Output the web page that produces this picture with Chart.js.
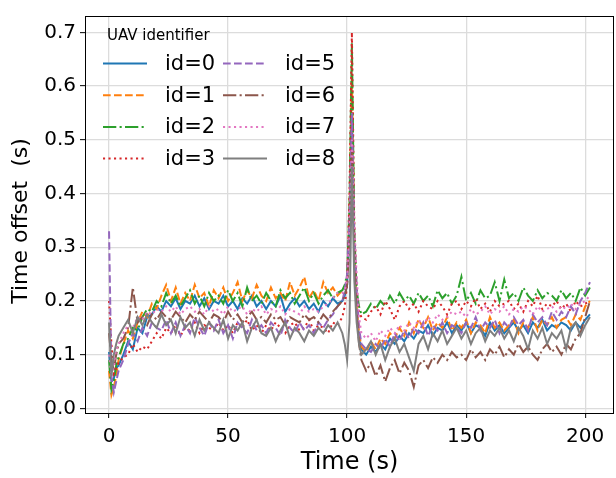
<!DOCTYPE html>
<html>
<head>
<meta charset="utf-8">
<script src="https://cdn.jsdelivr.net/npm/chart.js@4.4.1/dist/chart.umd.min.js"></script>
<style>
  html, body { margin: 0; padding: 0; background: #fff; }
  #wrap { width: 616px; height: 478px; }
</style>
</head>
<body>
<div id="wrap"><canvas id="offset-chart" width="616" height="478"></canvas></div>
<script>
// sample times (s)
const times = [
  0, 1, 2, 3, 4,
  6, 8, 10, 12, 14, 16, 18, 20, 22, 24,
  26, 28, 30, 32, 34, 36, 38, 40, 42, 44,
  46, 48, 50, 52, 54, 56, 58, 60, 62, 64,
  66, 68, 70, 72, 74, 76, 78, 80, 82, 84,
  86, 88, 90, 92, 94, 96,
  98, 99, 100, 101, 102, 103, 104, 105, 106,
  108, 110, 112, 114, 116, 118, 120, 122, 124, 126,
  128, 130, 132, 134, 136, 138, 140, 142, 144, 146,
  148, 150, 152, 154, 156, 158, 160, 162, 164, 166,
  168, 170, 172, 174, 176, 178, 180, 182, 184, 186,
  188, 190, 192, 194, 196, 198, 200, 202
];

const id0 = [
  0.105, 0.05, 0.055, 0.075, 0.08,
  0.10, 0.125, 0.11, 0.15, 0.14, 0.17, 0.175, 0.19, 0.18, 0.20,
  0.19, 0.205, 0.185, 0.20, 0.195, 0.21, 0.19, 0.205, 0.185, 0.20,
  0.195, 0.21, 0.19, 0.20, 0.185, 0.205, 0.195, 0.21, 0.19, 0.20,
  0.185, 0.20, 0.19, 0.21, 0.18, 0.195, 0.205, 0.19, 0.20, 0.185,
  0.195, 0.18, 0.20, 0.19, 0.205, 0.195,
  0.20, 0.21, 0.23, 0.33, 0.55, 0.30, 0.18, 0.13, 0.11,
  0.10, 0.115, 0.105, 0.12, 0.11, 0.13, 0.12, 0.135, 0.125, 0.14,
  0.13, 0.145, 0.14, 0.155, 0.135, 0.15, 0.145, 0.16, 0.14, 0.155,
  0.145, 0.16, 0.14, 0.155, 0.15, 0.135, 0.16, 0.145, 0.155, 0.14,
  0.15, 0.16, 0.145, 0.155, 0.14, 0.16, 0.15, 0.165, 0.145, 0.155,
  0.15, 0.16, 0.155, 0.145, 0.16, 0.15, 0.165, 0.175
];
const id1 = [
  0.07, 0.025, 0.04, 0.06, 0.09,
  0.12, 0.145, 0.13, 0.16, 0.18, 0.17, 0.195, 0.185, 0.21, 0.23,
  0.20, 0.225, 0.195, 0.215, 0.20, 0.23, 0.205, 0.215, 0.19, 0.22,
  0.205, 0.225, 0.20, 0.215, 0.235, 0.20, 0.22, 0.205, 0.23, 0.21,
  0.20, 0.225, 0.205, 0.215, 0.20, 0.235, 0.21, 0.225, 0.245, 0.205,
  0.22, 0.20, 0.235, 0.215, 0.225, 0.21,
  0.22, 0.225, 0.24, 0.36, 0.62, 0.31, 0.19, 0.14, 0.115,
  0.105, 0.125, 0.11, 0.13, 0.12, 0.14, 0.13, 0.15, 0.135, 0.16,
  0.14, 0.165, 0.15, 0.17, 0.145, 0.16, 0.15, 0.17, 0.145, 0.16,
  0.15, 0.165, 0.14, 0.16, 0.155, 0.14, 0.17, 0.15, 0.16, 0.145,
  0.155, 0.165, 0.14, 0.16, 0.15, 0.17, 0.145, 0.165, 0.155, 0.17,
  0.15, 0.165, 0.17, 0.155, 0.175, 0.165, 0.19, 0.20
];
const id2 = [
  0.09, 0.035, 0.05, 0.08, 0.095,
  0.12, 0.13, 0.15, 0.145, 0.17, 0.185, 0.18, 0.20, 0.19, 0.215,
  0.195, 0.21, 0.19, 0.205, 0.22, 0.195, 0.21, 0.19, 0.215, 0.20,
  0.21, 0.195, 0.22, 0.20, 0.215, 0.19, 0.225, 0.20, 0.21, 0.195,
  0.215, 0.20, 0.19, 0.22, 0.205, 0.215, 0.195, 0.21, 0.225, 0.20,
  0.215, 0.195, 0.21, 0.22, 0.205, 0.215,
  0.22, 0.23, 0.25, 0.38, 0.68, 0.33, 0.22, 0.19, 0.175,
  0.18, 0.195, 0.185, 0.20, 0.19, 0.21, 0.195, 0.215, 0.20, 0.21,
  0.195, 0.215, 0.20, 0.21, 0.19, 0.22, 0.205, 0.215, 0.195, 0.21,
  0.245, 0.20, 0.215, 0.195, 0.22, 0.205, 0.21, 0.235, 0.20, 0.24,
  0.205, 0.215, 0.20, 0.225, 0.21, 0.20, 0.22, 0.205, 0.215, 0.21,
  0.20, 0.22, 0.205, 0.215, 0.20, 0.225, 0.21, 0.225
];
const id3 = [
  0.20, 0.12, 0.065, 0.075, 0.085,
  0.095, 0.10, 0.12, 0.105, 0.115, 0.11, 0.125, 0.14, 0.13, 0.15,
  0.14, 0.155, 0.135, 0.15, 0.145, 0.16, 0.14, 0.155, 0.15, 0.145,
  0.16, 0.145, 0.155, 0.14, 0.16, 0.15, 0.165, 0.145, 0.155, 0.14,
  0.155, 0.145, 0.16, 0.15, 0.14, 0.155, 0.16, 0.145, 0.15, 0.165,
  0.145, 0.155, 0.15, 0.14, 0.16, 0.155,
  0.17, 0.19, 0.23, 0.40, 0.70, 0.35, 0.22, 0.18, 0.17,
  0.165, 0.18, 0.19, 0.175, 0.20, 0.185, 0.165, 0.19, 0.20, 0.185,
  0.195, 0.18, 0.20, 0.19, 0.185, 0.20, 0.19, 0.175, 0.195, 0.20,
  0.185, 0.20, 0.19, 0.205, 0.185, 0.195, 0.18, 0.20, 0.19, 0.195,
  0.20, 0.185, 0.195, 0.18, 0.20, 0.19, 0.21, 0.185, 0.195, 0.19,
  0.20, 0.185, 0.195, 0.18, 0.20, 0.19, 0.195, 0.20
];
const id5 = [
  0.33, 0.06, 0.03, 0.05, 0.07,
  0.09, 0.12, 0.14, 0.125, 0.15, 0.135, 0.16, 0.15, 0.145, 0.165,
  0.14, 0.16, 0.135, 0.155, 0.14, 0.17, 0.15, 0.135, 0.16, 0.145,
  0.165, 0.14, 0.155, 0.13, 0.16, 0.15, 0.14, 0.165, 0.145, 0.155,
  0.14, 0.16, 0.15, 0.135, 0.165, 0.15, 0.14, 0.16, 0.145, 0.155,
  0.14, 0.16, 0.15, 0.165, 0.175, 0.19,
  0.20, 0.22, 0.25, 0.35, 0.55, 0.32, 0.22, 0.15, 0.12,
  0.11, 0.105, 0.12, 0.11, 0.13, 0.115, 0.14, 0.125, 0.145, 0.13,
  0.15, 0.14, 0.16, 0.135, 0.155, 0.145, 0.16, 0.14, 0.155, 0.15,
  0.14, 0.16, 0.15, 0.17, 0.145, 0.16, 0.15, 0.165, 0.14, 0.16,
  0.15, 0.17, 0.155, 0.165, 0.145, 0.175, 0.16, 0.17, 0.155, 0.18,
  0.165, 0.18, 0.17, 0.19, 0.175, 0.20, 0.215, 0.235
];
const id6 = [
  0.14, 0.09, 0.07, 0.10, 0.12,
  0.13, 0.15, 0.225, 0.16, 0.17, 0.155, 0.175, 0.165, 0.18, 0.17,
  0.165, 0.18, 0.17, 0.16, 0.175, 0.165, 0.18, 0.17, 0.16, 0.175,
  0.17, 0.16, 0.18, 0.165, 0.175, 0.16, 0.17, 0.18, 0.165, 0.17,
  0.16, 0.175, 0.165, 0.17, 0.155, 0.17, 0.165, 0.16, 0.175, 0.165,
  0.17, 0.16, 0.175, 0.165, 0.18, 0.19,
  0.20, 0.21, 0.23, 0.30, 0.48, 0.30, 0.18, 0.12, 0.09,
  0.07, 0.085, 0.06, 0.08, 0.05, 0.075, 0.09, 0.065, 0.085, 0.07,
  0.04, 0.08, 0.09, 0.075, 0.095, 0.085, 0.10, 0.09, 0.105, 0.095,
  0.10, 0.09, 0.11, 0.095, 0.105, 0.09, 0.11, 0.10, 0.115, 0.095,
  0.11, 0.10, 0.12, 0.105, 0.115, 0.10, 0.09, 0.11, 0.12, 0.105,
  0.115, 0.10, 0.12, 0.11, 0.13, 0.14, 0.17, 0.20
];
const id7 = [
  0.10, 0.06, 0.08, 0.11, 0.12,
  0.14, 0.155, 0.15, 0.17, 0.165, 0.18, 0.175, 0.185, 0.18, 0.19,
  0.18, 0.19, 0.175, 0.185, 0.19, 0.18, 0.185, 0.175, 0.19, 0.18,
  0.185, 0.175, 0.19, 0.18, 0.185, 0.19, 0.175, 0.185, 0.18, 0.19,
  0.175, 0.185, 0.18, 0.19, 0.175, 0.185, 0.18, 0.175, 0.19, 0.18,
  0.185, 0.18, 0.19, 0.195, 0.205, 0.215,
  0.215, 0.22, 0.24, 0.32, 0.50, 0.34, 0.25, 0.17, 0.14,
  0.13, 0.14, 0.125, 0.145, 0.135, 0.15, 0.14, 0.155, 0.145, 0.16,
  0.15, 0.165, 0.155, 0.17, 0.16, 0.175, 0.165, 0.17, 0.18, 0.175,
  0.18, 0.17, 0.185, 0.175, 0.18, 0.19, 0.175, 0.185, 0.18, 0.19,
  0.175, 0.185, 0.18, 0.19, 0.185, 0.175, 0.19, 0.18, 0.185, 0.19,
  0.18, 0.19, 0.185, 0.195, 0.185, 0.195, 0.20, 0.21
];
const id8 = [
  0.16, 0.06, 0.10, 0.12, 0.135,
  0.15, 0.165, 0.14, 0.17, 0.155, 0.175, 0.16, 0.15, 0.175, 0.155,
  0.165, 0.14, 0.17, 0.15, 0.16, 0.135, 0.165, 0.145, 0.16, 0.15,
  0.14, 0.165, 0.13, 0.155, 0.145, 0.16, 0.125, 0.15, 0.165, 0.14,
  0.135, 0.15, 0.125, 0.145, 0.16, 0.13, 0.15, 0.14, 0.125, 0.145,
  0.135, 0.15, 0.14, 0.155, 0.145, 0.16,
  0.14, 0.12, 0.09, 0.16, 0.45, 0.24, 0.16, 0.12, 0.10,
  0.11, 0.125, 0.10, 0.12, 0.09, 0.115, 0.13, 0.105, 0.12, 0.095,
  0.07, 0.12, 0.135, 0.11, 0.14, 0.125, 0.145, 0.12, 0.135, 0.15,
  0.13, 0.145, 0.12, 0.14, 0.15, 0.125, 0.145, 0.135, 0.15, 0.13,
  0.145, 0.125, 0.15, 0.135, 0.11, 0.145, 0.13, 0.15, 0.12, 0.14,
  0.13, 0.145, 0.11, 0.15, 0.16, 0.135, 0.155, 0.17
];

const series_labels = ['id=0', 'id=1', 'id=2', 'id=3', 'id=5', 'id=6', 'id=7', 'id=8'];
const series_values = [id0, id1, id2, id3, id5, id6, id7, id8];
const x_ticks = [0, 50, 100, 150, 200];
const y_ticks = [0, 0.1, 0.2, 0.3, 0.4, 0.5, 0.6, 0.7];

const colors = ['#1f77b4', '#ff7f0e', '#2ca02c', '#d62728', '#9467bd', '#8c564b', '#e377c2', '#7f7f7f'];
const dashes = [[], [7.7, 3.3], [13.3, 3.3, 2.1, 3.3], [2.1, 3.4], [7.7, 3.3], [13.3, 3.3, 2.1, 3.3], [2.1, 3.4], []];
const FONT = '"DejaVu Sans", sans-serif';

const datasets = series_values.map((vals, i) => ({
	label: series_labels[i],
	data: times.map((t, j) => ({ x: t, y: vals[j] })),
	borderColor: colors[i],
	backgroundColor: colors[i],
	borderWidth: 2,
	borderDash: dashes[i],
	pointRadius: 0,
	tension: 0,
	fill: false,
	order: series_values.length - i
}));

// frame round the plot, y label, legend inside the axes
const framePlugin = {
	id: 'frameAndLegend',
	afterDraw(chart) {
		const c = chart.ctx, a = chart.chartArea;
		c.save();
		c.strokeStyle = '#000';
		c.lineWidth = 1;
		c.setLineDash([]);
		c.strokeRect(a.left + 0.5, a.top + 0.5, a.right - a.left - 1, a.bottom - a.top);

		c.fillStyle = '#000';
		c.textAlign = 'center';
		c.textBaseline = 'middle';
		c.save();
		c.translate(21, 221);
		c.rotate(-Math.PI / 2);
		c.font = '22px ' + FONT;
		c.fillText('Time offset  (s)', 0, 0);
		c.restore();

		c.textAlign = 'left';
		c.font = '15px ' + FONT;
		c.fillText('UAV identifier', 107, 36);
		chart.data.datasets.forEach((ds, i) => {
			const col = Math.floor(i / 4), row = i % 4;
			const x0 = 103 + col * 120, y = 63.5 + row * 31.7;
			c.strokeStyle = ds.borderColor;
			c.lineWidth = ds.borderWidth;
			c.setLineDash(ds.borderDash);
			c.beginPath();
			c.moveTo(x0, y);
			c.lineTo(x0 + 44, y);
			c.stroke();
			c.setLineDash([]);
			c.font = '21px ' + FONT;
			c.fillText(ds.label, x0 + 62, y + 1);
		});
		c.restore();
	}
};

const ctx = document.getElementById('offset-chart').getContext('2d');
let myChart = new Chart(ctx, {
	type: 'line',
	data: { datasets: datasets },
	options: {
		responsive: false,
		animation: false,
		layout: { padding: { left: 0, right: 2, top: 10, bottom: 0 } },
		plugins: { legend: { display: false }, tooltip: { enabled: false } },
		scales: {
			x: {
				type: 'linear',
				min: -10.1,
				max: 212.1,
				afterBuildTicks: s => { s.ticks = x_ticks.map(v => ({ value: v })); },
				afterFit: s => { s.height = 65; },
				ticks: {
					font: { family: FONT, size: 20 },
					color: '#000',
					padding: 7,
					maxRotation: 0,
					callback: v => String(v)
				},
				grid: { color: '#dcdcdc', lineWidth: 1.3, tickLength: 5, tickColor: '#000', tickWidth: 1 },
				border: { display: false },
				title: { display: true, text: 'Time (s)', font: { family: FONT, size: 24 }, color: '#000', padding: { top: 0, bottom: 1 } }
			},
			y: {
				min: -0.0086,
				max: 0.7306,
				afterBuildTicks: s => { s.ticks = y_ticks.map(v => ({ value: v })); },
				afterFit: s => { s.width = 85; },
				ticks: {
					font: { family: FONT, size: 20 },
					color: '#000',
					padding: 4,
					callback: v => v.toFixed(1)
				},
				grid: { color: '#dcdcdc', lineWidth: 1.3, tickLength: 5, tickColor: '#000', tickWidth: 1 },
				border: { display: false },
				title: { display: false }
			}
		}
	},
	plugins: [framePlugin]
});
</script>
</body>
</html>
